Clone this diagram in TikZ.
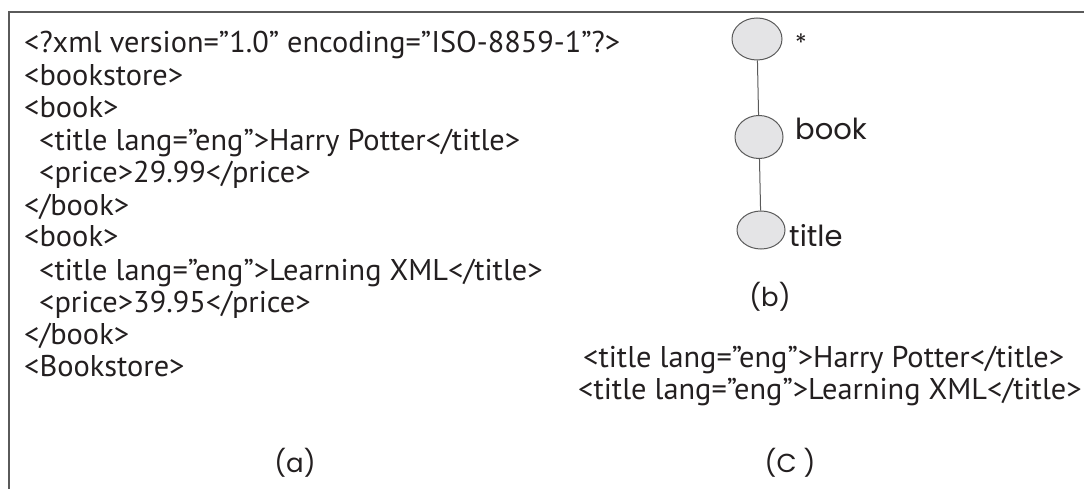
\documentclass[tikz,border=0pt]{standalone}
\usepackage{fontspec}
\usepackage{graphicx}
\setmainfont{PT Sans}
\newfontfamily\geofont{Poppins}
\usetikzlibrary{shapes.geometric}
\definecolor{linegray}{HTML}{5A5A5A}
\definecolor{nodefill}{HTML}{E4E4E6}
\definecolor{txt}{HTML}{231F20}
\newsavebox{\measbox}
\newcommand{\codefont}{\fontsize{30}{34}\selectfont}
\newcommand{\codesx}{1}
\AtBeginDocument{%
  \sbox{\measbox}{\codefont <title lang="eng">Harry Potter</title>}%
  \pgfmathsetmacro{\tmpsx}{481/\the\wd\measbox}%
  \xdef\codesx{\tmpsx}}
\newcommand{\cl}[1]{\scalebox{\codesx}[1]{#1}}
\newcommand{\fitline}[2]{\sbox{\measbox}{#2}\pgfmathsetmacro{\fitsx}{#1/\the\wd\measbox}\scalebox{\fitsx}[1]{\usebox{\measbox}}}
\tikzset{
  codeline/.style={anchor=base west, inner sep=0pt, text=txt, font=\codefont},
  captext/.style={anchor=base, inner sep=0pt, text=txt, font=\geofont\fontsize{26}{30}\selectfont},
  tnode/.style={ellipse, draw=linegray, fill=nodefill, line width=1pt, inner sep=0pt},
  tlabel/.style={anchor=base west, inner sep=0pt, text=txt, font=\geofont\fontsize{29}{32}\selectfont},
  conn/.style={draw=linegray, line width=1pt},
  framestyle/.style={draw=linegray, line width=1.5pt}
}
\begin{document}
\begin{tikzpicture}[x=1pt,y=-1pt]
\useasboundingbox (0,0) rectangle (1084,489);
\coordinate (fb) at (9,489);
\coordinate (fc) at (9,12);
\coordinate (fr) at (1084,12);
\draw[framestyle] (fb) -- (fc) -- (fr);
% (a) code listing
\node[codeline] (l1) at (24,53) {\fitline{596}{<?xml version="1.0" encoding="ISO-8859-1"?>}};
\node[codeline] (l2) at (24,86) {\cl{<bookstore>}};
\node[codeline] (l3) at (24,118) {\cl{<book>}};
\node[codeline] (l4) at (39,151) {\cl{<title lang="eng">Harry Potter</title>}};
\node[codeline] (l5) at (39,183) {\cl{<price>29.99</price>}};
\node[codeline] (l6) at (24,215) {\cl{</book>}};
\node[codeline] (l7) at (24,247) {\cl{<book>}};
\node[codeline] (l8) at (39,280) {\cl{<title lang="eng">Learning XML</title>}};
\node[codeline] (l9) at (39,312) {\cl{<price>39.95</price>}};
\node[codeline] (l10) at (24,344) {\cl{</book>}};
\node[codeline] (l11) at (24,376) {\cl{<Bookstore>}};
\node[captext] (ca) at (295,472) {(a)};
% (b) tree
\node[tnode, minimum width=50pt, minimum height=42pt] (n1) at (757,39) {};
\node[tnode, minimum width=48pt, minimum height=43pt] (n2) at (759,137) {};
\node[tnode, minimum width=48pt, minimum height=38pt] (n3) at (761,230) {};
\draw[conn] (n1) -- (n2);
\draw[conn] (n2) -- (n3);
\node[tlabel, font=\geofont\fontsize{24}{28}\selectfont] (s1) at (795,52) {*};
\node[tlabel] (s2) at (795,140) {book};
\node[tlabel] (s3) at (789,246) {title};
\node[captext] (cb) at (770,306) {(b)};
% (c) result
\node[codeline] (r1) at (583,367) {\cl{<title lang="eng">Harry Potter</title>}};
\node[codeline] (r2) at (578,399) {\cl{<title lang="eng">Learning XML</title>}};
\node[captext] (cc) at (790,472) {(C )};
\end{tikzpicture}
\end{document}
